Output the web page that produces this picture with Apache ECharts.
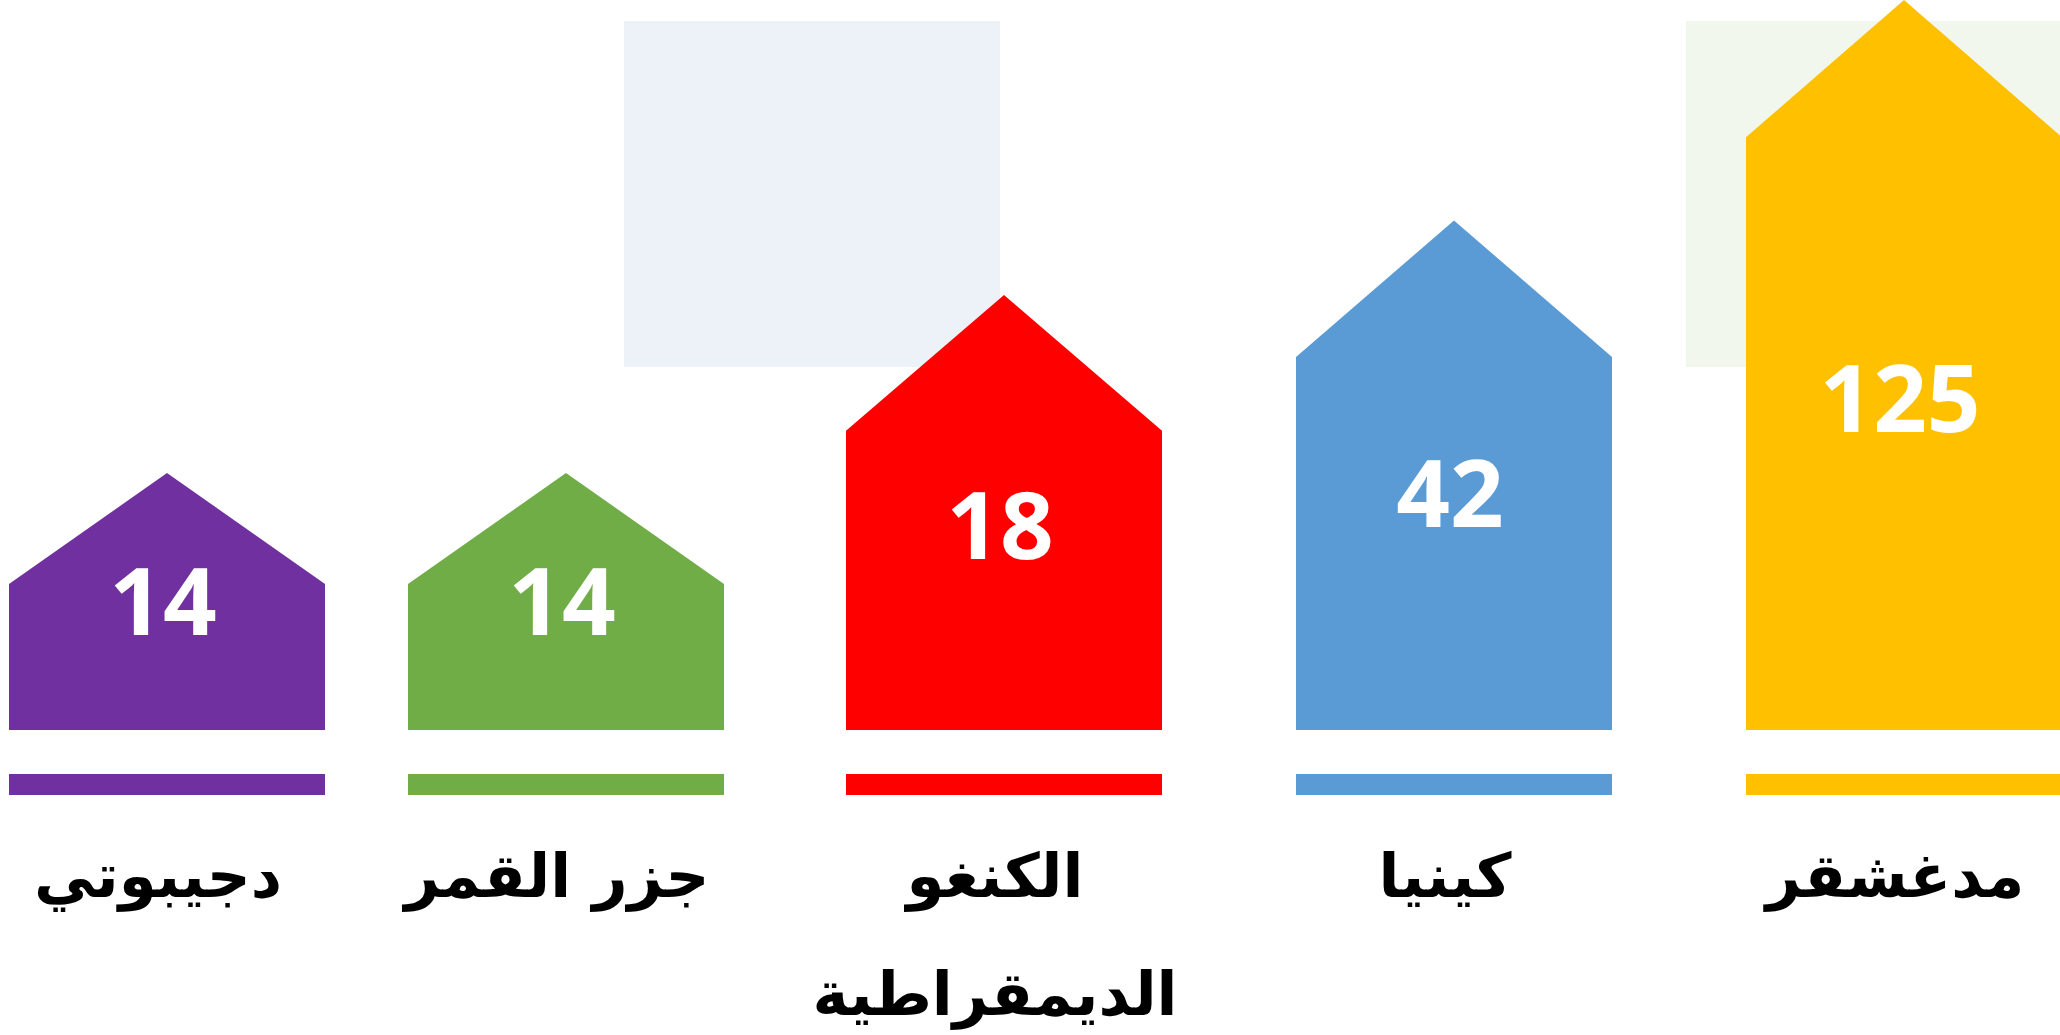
<!DOCTYPE html>
<html><head><meta charset="utf-8">
<script src="https://cdn.jsdelivr.net/npm/echarts@6/dist/echarts.min.js"></script>
<style>html,body{margin:0;padding:0;background:#fff}#c{width:2060px;height:1035px}</style>
</head><body><div id="c"></div>
<script>
// ---- data ----
const countries = ['دجيبوتي', 'جزر القمر', 'الكنغو\nالديمقراطية', 'كينيا', 'مدغشقر'];
const values = [14, 14, 18, 42, 125];
// house shape heights on a 0–100 visual scale (roof apex, wall top)
const apexHeights = [35.2, 35.2, 59.6, 69.8, 100];
const wallHeights = [20.0, 20.0, 41.0, 51.1, 81.2];
const colors = ['#7030A0', '#70AD47', '#FF0000', '#5B9BD5', '#FFC000'];

// ---- layout ----
const slotLefts = [9, 408, 846, 1296, 1746];
const slotWidth = 316;

const chart = echarts.init(document.getElementById('c'), null, {renderer: 'canvas'});

const grids = [], xAxes = [], yAxes = [], series = [];
countries.forEach((name, i) => {
  grids.push({left: slotLefts[i], width: slotWidth, top: 0, height: 730,
              containLabel: false, outerBoundsMode: 'none'});
  xAxes.push({
    type: 'category', gridIndex: i, data: [name], boundaryGap: true,
    axisLine: {show: false}, axisTick: {show: false}, splitLine: {show: false},
    axisLabel: {
      interval: 0, margin: 92, color: '#000', hideOverlap: false,
      padding: [0, 18, 0, 0],
      fontFamily: 'DejaVu Sans', fontWeight: 'bold', fontSize: 61, lineHeight: 118
    }
  });
  yAxes.push({type: 'value', gridIndex: i, min: 0, max: 100, show: false});
  series.push({
    type: 'custom', xAxisIndex: i, yAxisIndex: i, z: 3, clip: false,
    data: [[0, apexHeights[i], wallHeights[i], values[i]]],
    renderItem: function (params, api) {
      const cat = api.value(0);
      const base = api.coord([cat, 0]);
      const apex = api.coord([cat, api.value(1)]);
      const wall = api.coord([cat, api.value(2)]);
      const lbl = api.coord([cat, api.value(1) * 0.43 + 1.5]);
      const w = api.size([1, 0])[0];
      const cx = base[0], h = w / 2;
      return {
        type: 'group',
        children: [
          {type: 'polygon',
           shape: {points: [[cx - h, base[1]], [cx - h, wall[1]], [cx, apex[1]], [cx + h, wall[1]], [cx + h, base[1]]]},
           style: {fill: colors[i]}},
          {type: 'rect', shape: {x: cx - h, y: base[1] + 44, width: w, height: 21},
           style: {fill: colors[i]}},
          {type: 'text', x: lbl[0] - 4, y: lbl[1],
           style: {text: String(api.value(3)), fill: '#fff', fontFamily: 'Open Sans',
                   fontWeight: 'bold', fontSize: 94, align: 'center', verticalAlign: 'middle'}}
        ]
      };
    }
  });
});

chart.setOption({
  animation: false,
  backgroundColor: '#fff',
  graphic: [
    {type: 'rect', z: 0, shape: {x: 624, y: 21, width: 376, height: 346}, style: {fill: '#EDF2F9'}},
    {type: 'rect', z: 0, shape: {x: 1686, y: 21, width: 374, height: 346}, style: {fill: '#F1F7ED'}}
  ],
  grid: grids,
  xAxis: xAxes,
  yAxis: yAxes,
  series: series
});
</script></body></html>
